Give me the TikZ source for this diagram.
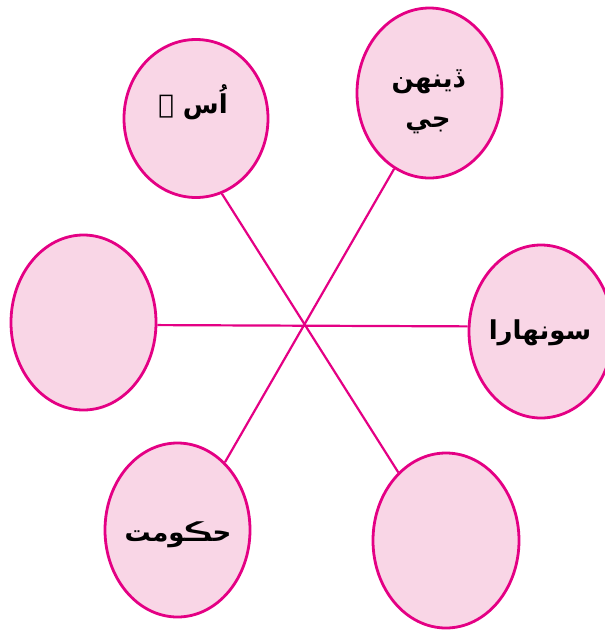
\documentclass[tikz,border=0pt]{standalone}
\usepackage{fontspec}
\usetikzlibrary{shapes.geometric}
\TeXXeTstate=1
\newfontfamily\arabicfont[Script=Arabic]{DejaVu Sans}
\definecolor{pinkline}{RGB}{228,0,132}
\definecolor{pinkfill}{RGB}{249,214,230}
\tikzset{
  bubble/.style={ellipse, draw=pinkline, line width=2.8pt, fill=pinkfill, inner sep=0pt},
  spoke/.style={draw=pinkline, line width=2.2pt},
  word/.style={font=\arabicfont\bfseries\fontsize{26}{40}\selectfont, align=center, inner sep=0pt}
}
\begin{document}
\begin{tikzpicture}[x=1pt,y=-1pt]
\useasboundingbox (0,0) rectangle (605,633);
\node[bubble, minimum width=144pt, minimum height=158pt] (tl) at (196,118.5) {};
\node[bubble, minimum width=145pt, minimum height=170pt] (tr) at (429.5,93) {};
\node[bubble, minimum width=145pt, minimum height=175pt] (l) at (83.5,322.5) {};
\node[bubble, minimum width=144pt, minimum height=173pt] (r) at (541,331.5) {};
\node[bubble, minimum width=145pt, minimum height=174pt] (bl) at (177.5,530) {};
\node[bubble, minimum width=146pt, minimum height=175pt] (br) at (446,540.5) {};
\draw[spoke] (tl.-71.5) -- (br.125.4);
\draw[spoke] (tr.-115.4) -- (bl.55.2);
\draw[spoke] (l.-2) -- (r.176);
\node[word] (t1) at (193,102) {\beginR اُس ۾\endR};
\node[word] (t2) at (428,102) {\beginR ڏينهن\endR\\\beginR جي\endR};
\node[word] (t3) at (540,333) {\beginR سونهارا\endR};
\node[word] (t4) at (178,535) {\beginR حڪومت\endR};
\end{tikzpicture}
\end{document}
